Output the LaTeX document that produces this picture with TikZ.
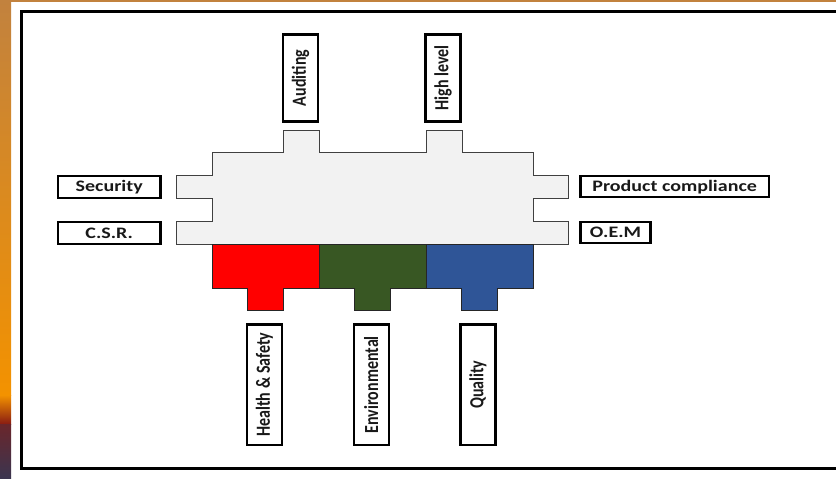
\documentclass[tikz,border=0pt]{standalone}
\usepackage{fontspec}
\usepackage{xcolor}
\setmainfont{Carlito}
\newfontfamily\hfont[FakeStretch=1.25]{Carlito}
\newfontfamily\vfont[FakeStretch=0.8]{Carlito}
\definecolor{pgray}{HTML}{F2F2F2}
\definecolor{pedge}{HTML}{404040}
\definecolor{pred}{HTML}{FF0000}
\definecolor{pgreen}{HTML}{385723}
\definecolor{pblue}{HTML}{2F5597}
\definecolor{bgtop}{HTML}{C2823E}
\definecolor{bgmid}{HTML}{F39200}
\definecolor{bgdusk}{HTML}{8A1C12}
\definecolor{bgnight}{HTML}{3A3550}
\newcommand{\slab}[2]{% x0, color
  \draw[fill=#2, draw=black!85, line width=0.8pt]
    (#1,244.3) -- ++(107,0) -- ++(0,44) -- ++(-35.5,0) -- ++(0,22.4)
    -- ++(-36,0) -- ++(0,-22.4) -- ++(-35.5,0) -- cycle;}
\tikzset{
  tag/.style={draw=black, line width=2.4pt, fill=white, inner sep=0pt,
              text=black!90, font=\hfont\bfseries\fontsize{16}{16}\selectfont},
  vtag/.style={tag, rotate=90, minimum width=120.3pt, minimum height=35.2pt,
               font=\vfont\bfseries\fontsize{20}{20}\selectfont},
}

\begin{document}
\begin{tikzpicture}[x=1pt, y=-1pt]
    \useasboundingbox (0,0) rectangle (836,479);
    % --- slide background ------------------------------------------------
    \fill[white] (0,0) rectangle (836,479);
    \fill[bgtop] (0,0) rectangle (836,2.2);
    \shade[top color=bgtop, bottom color=bgmid] (0,0) rectangle (11,395);
    \shade[top color=bgmid, bottom color=bgdusk] (0,395) rectangle (11,424);
    \shade[top color=bgdusk!60!bgnight, bottom color=bgnight] (0,424) rectangle (11,479);
    \draw[line width=2.6pt] (845,11.3) -- (21.5,11.3) -- (21.5,468.3) -- (845,468.3);

    % --- grey core with its six tabs -------------------------------------
    \draw[fill=pgray, draw=pedge, line width=0.9pt]
      (176,175.7) -- (212,175.7) -- (212,152.7) -- (283,152.7) -- (283,130.7)
      -- (319,130.7) -- (319,152.7) -- (426,152.7) -- (426,130.7) -- (462,130.7)
      -- (462,152.7) -- (533,152.7) -- (533,175.5) -- (568,175.5) -- (568,198.3)
      -- (533,198.3) -- (533,221.3) -- (568,221.3) -- (568,244.3) -- (176,244.3)
      -- (176,221.7) -- (212,221.7) -- (212,198.3) -- (176,198.3) -- cycle;

    % --- coloured slabs below the core -----------------------------------
    \slab{212}{pred}    % Health & Safety
    \slab{319}{pgreen}  % Environmental
    \slab{426}{pblue}   % Quality

    % --- side labels -----------------------------------------------------
    \node[tag, minimum width=102.6pt, minimum height=21.6pt] (secu) at (109.2,187)   {Security};
    \node[tag, minimum width=102.6pt, minimum height=21.6pt] (csr)  at (109.2,232.9) {C.S.R.};
    \node[tag, minimum width=188.3pt, minimum height=21pt]   (prod) at (674.7,186.7) {Product compliance};
    \node[tag, minimum width=70pt,    minimum height=21pt]   (oem)  at (615.5,232.7) {O.E.M};

    % --- top and bottom labels (rotated) ---------------------------------
    \node[vtag, minimum width=87pt] (audit) at (300.5,78) {Auditing};
    \node[vtag, minimum width=87pt] (high)  at (443,78)   {High level};
    \node[vtag] (hs)   at (264.5,384.7) {Health \& Safety};
    \node[vtag] (env)  at (371.3,384.7) {Environmental};
    \node[vtag] (qual) at (478,384.7)   {Quality};
  \end{tikzpicture}
\end{document}
